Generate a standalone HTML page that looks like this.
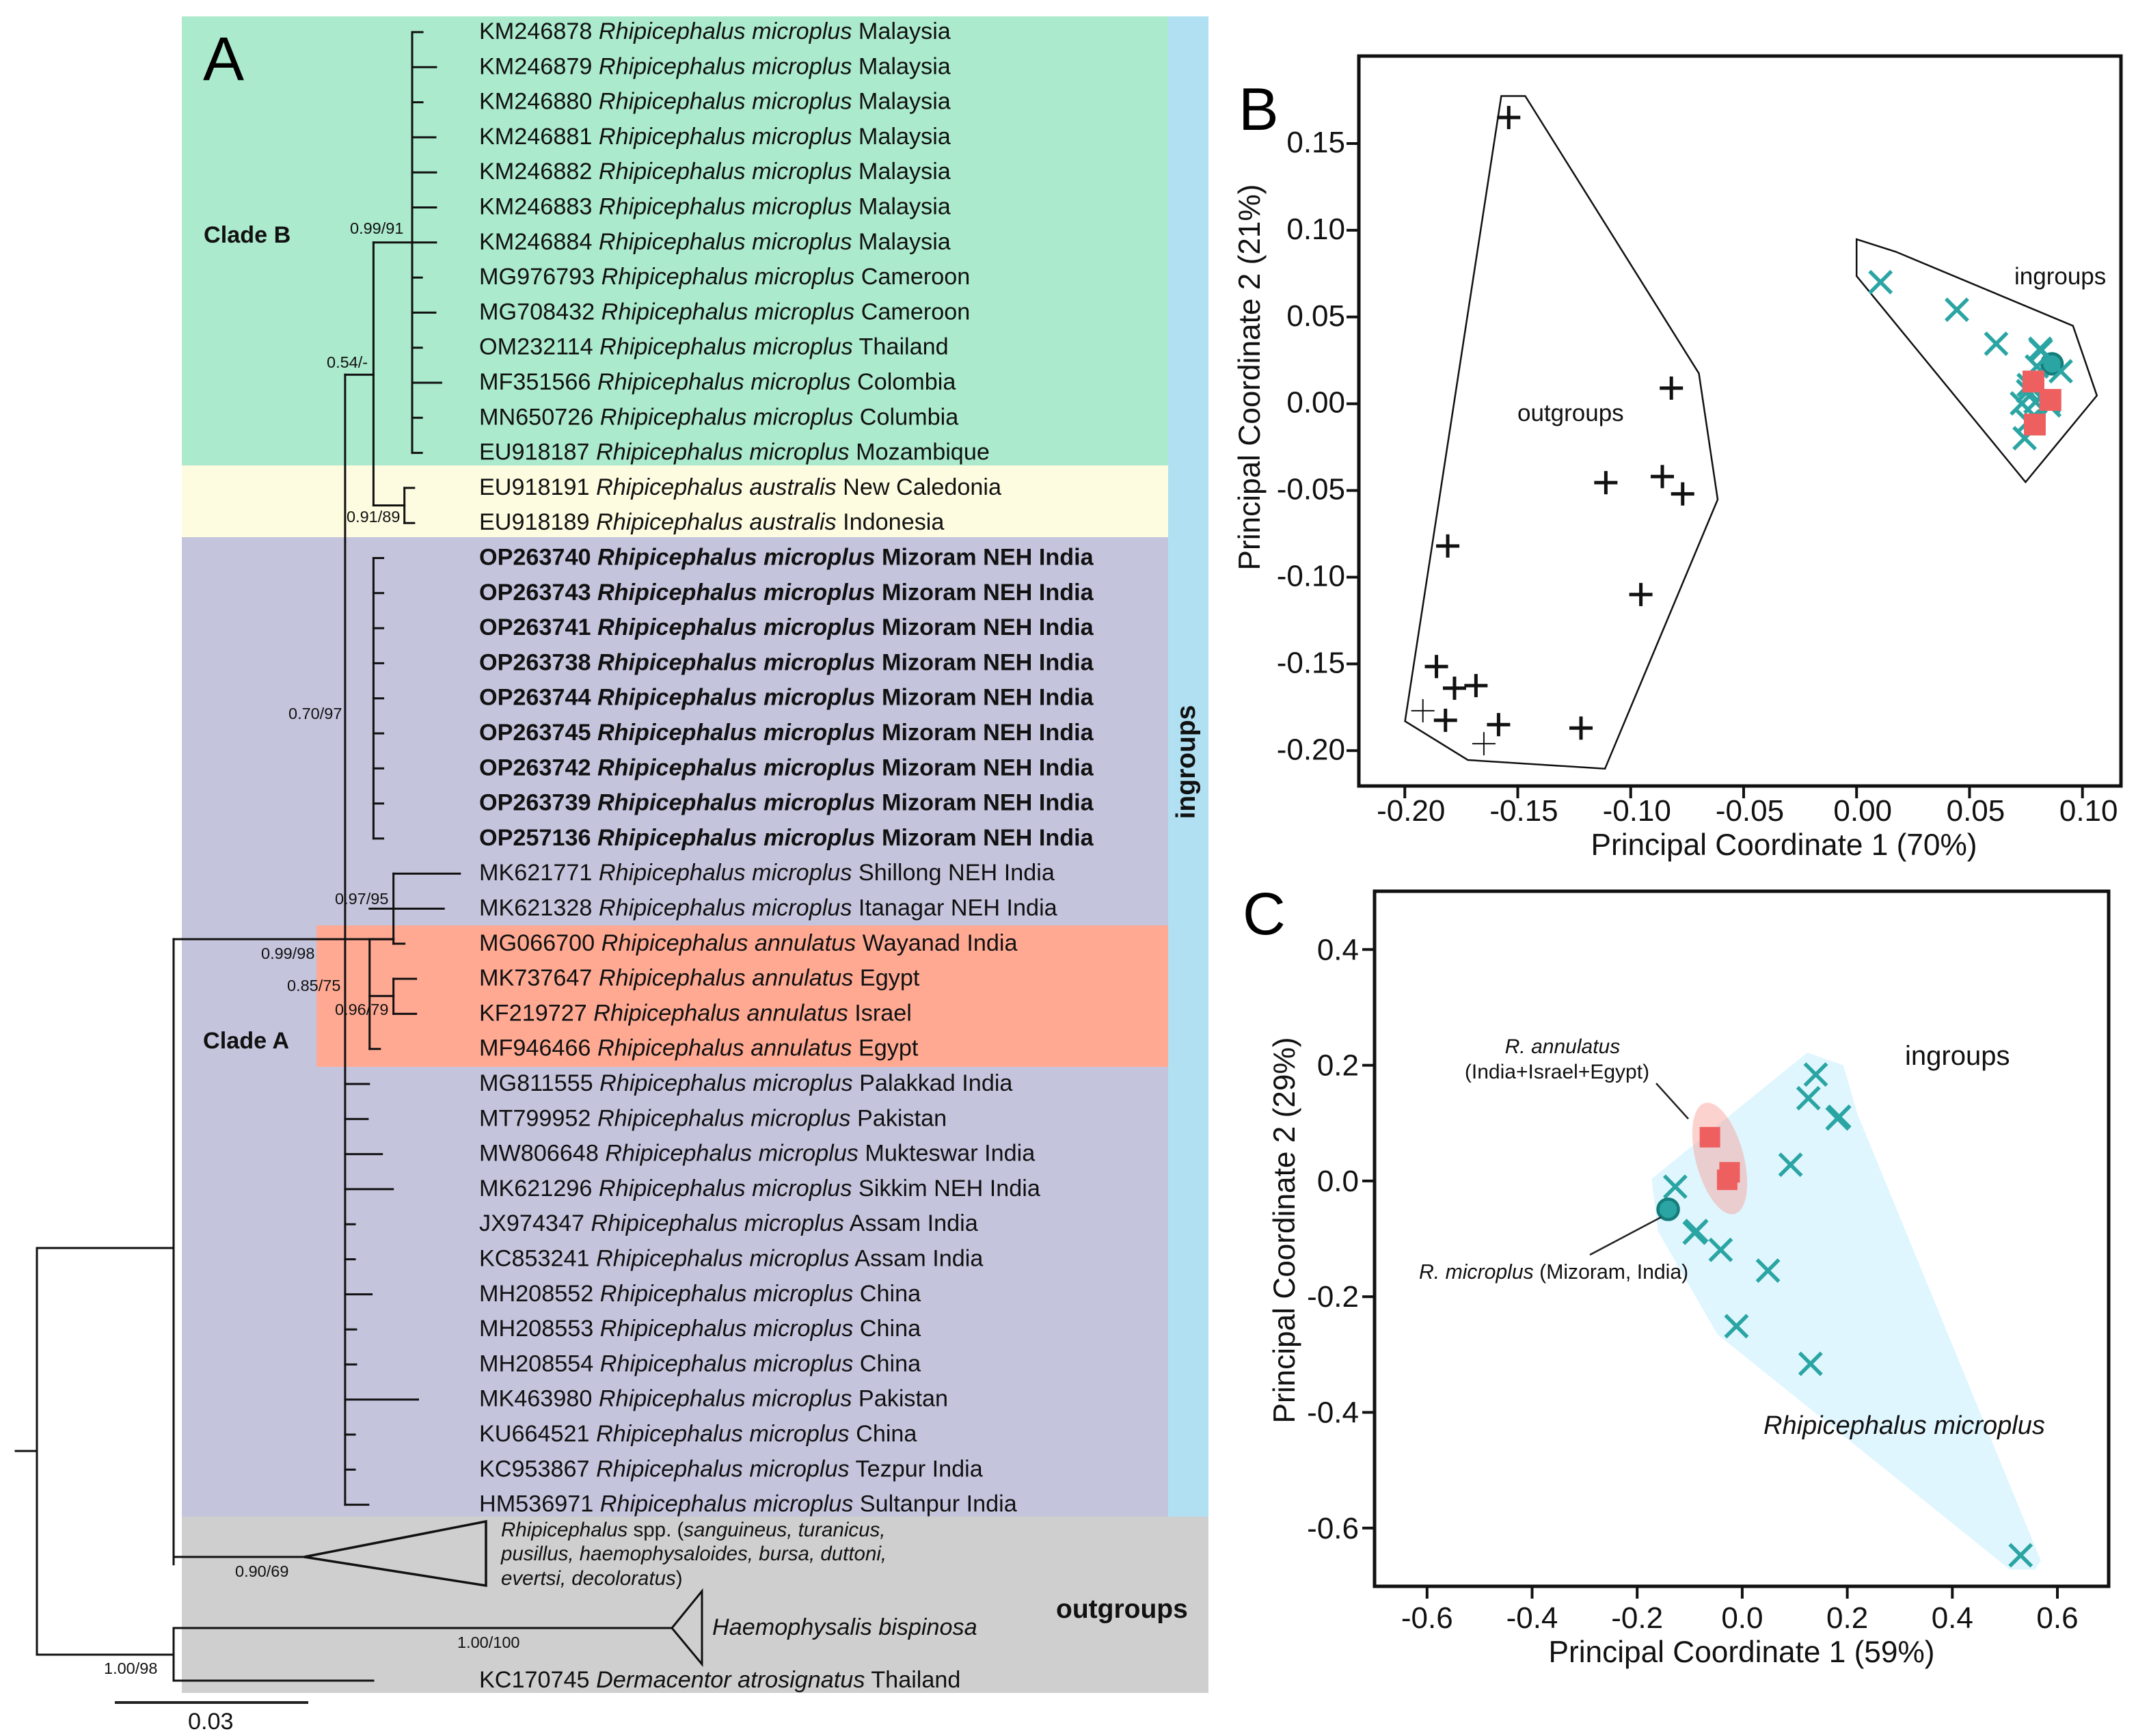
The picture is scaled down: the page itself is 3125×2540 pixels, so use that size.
<!DOCTYPE html>
<html lang="en">
<head>
<meta charset="utf-8">
<title>Phylogeny and principal coordinates analysis of Rhipicephalus</title>
<style>
html,body{margin:0;padding:0;background:#fff;}
body{width:3125px;height:2540px;overflow:hidden;position:relative;}
svg{position:absolute;left:0;top:0;font-family:"Liberation Sans",sans-serif;}
.t{font-size:34.2px;fill:#111;}
.b{font-weight:bold;}
.i{font-style:italic;}
.s{font-size:23.5px;fill:#111;}
.tick{font-size:44px;fill:#111;}
.title{font-size:44.2px;fill:#111;}
.big{font-size:90px;fill:#000;}
</style>
</head>
<body>
<svg id="figure" xmlns="http://www.w3.org/2000/svg" width="3125" height="2540" viewBox="0 0 3125 2540">
  <rect x="0" y="0" width="3125" height="2540" fill="#fff"/>
  <g id="panel-a">
    <rect x="266" y="24" width="1443" height="657" fill="#abeacd"/>
    <rect x="266" y="681" width="1443" height="105" fill="#fdfbe0"/>
    <rect x="266" y="786" width="1443" height="1433" fill="#c4c5dd"/>
    <rect x="463" y="1354" width="1246" height="207" fill="#ffa993"/>
    <rect x="1709" y="24" width="59" height="2195" fill="#b0e0f2"/>
    <rect x="266" y="2219" width="1502" height="258" fill="#d0cfd0"/>
    <g id="tree-lines"></g>
    <polygon points="445,2278 711,2226 711,2320" fill="none" stroke="#111" stroke-width="3.5"/>
    <polygon points="983,2382 1027,2328 1027,2435" fill="none" stroke="#111" stroke-width="3"/>

    <text class="big" x="297" y="117">A</text>
    <text class="t b" x="298" y="355">Clade B</text>
    <text class="t b" x="297" y="1534">Clade A</text>
    <text class="b" font-size="39" fill="#111" text-anchor="middle" transform="translate(1748,1115) rotate(-90)">ingroups</text>
    <text class="b" font-size="39" fill="#111" x="1545" y="2367">outgroups</text>

    <text class="s" x="512" y="342">0.99/91</text>
    <text class="s" x="478" y="538">0.54/-</text>
    <text class="s" x="507" y="764">0.91/89</text>
    <text class="s" x="422" y="1052">0.70/97</text>
    <text class="s" x="490" y="1323">0.97/95</text>
    <text class="s" x="382" y="1403">0.99/98</text>
    <text class="s" x="420" y="1450">0.85/75</text>
    <text class="s" x="490" y="1485">0.96/79</text>
    <text class="s" x="344" y="2307">0.90/69</text>
    <text class="s" x="669" y="2411">1.00/100</text>
    <text class="s" x="152" y="2449">1.00/98</text>

    <g transform="translate(-1,-2)">
    <text class="t" x="702" y="59">KM246878 <tspan class="i">Rhipicephalus microplus</tspan> Malaysia</text>
    <text class="t" x="702" y="110.3">KM246879 <tspan class="i">Rhipicephalus microplus</tspan> Malaysia</text>
    <text class="t" x="702" y="161.6">KM246880 <tspan class="i">Rhipicephalus microplus</tspan> Malaysia</text>
    <text class="t" x="702" y="212.9">KM246881 <tspan class="i">Rhipicephalus microplus</tspan> Malaysia</text>
    <text class="t" x="702" y="264.2">KM246882 <tspan class="i">Rhipicephalus microplus</tspan> Malaysia</text>
    <text class="t" x="702" y="315.5">KM246883 <tspan class="i">Rhipicephalus microplus</tspan> Malaysia</text>
    <text class="t" x="702" y="366.8">KM246884 <tspan class="i">Rhipicephalus microplus</tspan> Malaysia</text>
    <text class="t" x="702" y="418.1">MG976793 <tspan class="i">Rhipicephalus microplus</tspan> Cameroon</text>
    <text class="t" x="702" y="469.4">MG708432 <tspan class="i">Rhipicephalus microplus</tspan> Cameroon</text>
    <text class="t" x="702" y="520.7">OM232114 <tspan class="i">Rhipicephalus microplus</tspan> Thailand</text>
    <text class="t" x="702" y="572">MF351566 <tspan class="i">Rhipicephalus microplus</tspan> Colombia</text>
    <text class="t" x="702" y="623.3">MN650726 <tspan class="i">Rhipicephalus microplus</tspan> Columbia</text>
    <text class="t" x="702" y="674.6">EU918187 <tspan class="i">Rhipicephalus microplus</tspan> Mozambique</text>
    <text class="t" x="702" y="725.9">EU918191 <tspan class="i">Rhipicephalus australis</tspan> New Caledonia</text>
    <text class="t" x="702" y="777.2">EU918189 <tspan class="i">Rhipicephalus australis</tspan> Indonesia</text>
    <text class="t b" x="702" y="828.5">OP263740 <tspan class="i">Rhipicephalus microplus</tspan> Mizoram NEH India</text>
    <text class="t b" x="702" y="879.8">OP263743 <tspan class="i">Rhipicephalus microplus</tspan> Mizoram NEH India</text>
    <text class="t b" x="702" y="931.1">OP263741 <tspan class="i">Rhipicephalus microplus</tspan> Mizoram NEH India</text>
    <text class="t b" x="702" y="982.4">OP263738 <tspan class="i">Rhipicephalus microplus</tspan> Mizoram NEH India</text>
    <text class="t b" x="702" y="1033.7">OP263744 <tspan class="i">Rhipicephalus microplus</tspan> Mizoram NEH India</text>
    <text class="t b" x="702" y="1085">OP263745 <tspan class="i">Rhipicephalus microplus</tspan> Mizoram NEH India</text>
    <text class="t b" x="702" y="1136.3">OP263742 <tspan class="i">Rhipicephalus microplus</tspan> Mizoram NEH India</text>
    <text class="t b" x="702" y="1187.6">OP263739 <tspan class="i">Rhipicephalus microplus</tspan> Mizoram NEH India</text>
    <text class="t b" x="702" y="1238.9">OP257136 <tspan class="i">Rhipicephalus microplus</tspan> Mizoram NEH India</text>
    <text class="t" x="702" y="1290.2">MK621771 <tspan class="i">Rhipicephalus microplus</tspan> Shillong NEH India</text>
    <text class="t" x="702" y="1341.5">MK621328 <tspan class="i">Rhipicephalus microplus</tspan> Itanagar NEH India</text>
    <text class="t" x="702" y="1392.8">MG066700 <tspan class="i">Rhipicephalus annulatus</tspan> Wayanad India</text>
    <text class="t" x="702" y="1444.1">MK737647 <tspan class="i">Rhipicephalus annulatus</tspan> Egypt</text>
    <text class="t" x="702" y="1495.4">KF219727 <tspan class="i">Rhipicephalus annulatus</tspan> Israel</text>
    <text class="t" x="702" y="1546.7">MF946466 <tspan class="i">Rhipicephalus annulatus</tspan> Egypt</text>
    <text class="t" x="702" y="1598">MG811555 <tspan class="i">Rhipicephalus microplus</tspan> Palakkad India</text>
    <text class="t" x="702" y="1649.3">MT799952 <tspan class="i">Rhipicephalus microplus</tspan> Pakistan</text>
    <text class="t" x="702" y="1700.6">MW806648 <tspan class="i">Rhipicephalus microplus</tspan> Mukteswar India</text>
    <text class="t" x="702" y="1751.9">MK621296 <tspan class="i">Rhipicephalus microplus</tspan> Sikkim NEH India</text>
    <text class="t" x="702" y="1803.2">JX974347 <tspan class="i">Rhipicephalus microplus</tspan> Assam India</text>
    <text class="t" x="702" y="1854.5">KC853241 <tspan class="i">Rhipicephalus microplus</tspan> Assam India</text>
    <text class="t" x="702" y="1905.8">MH208552 <tspan class="i">Rhipicephalus microplus</tspan> China</text>
    <text class="t" x="702" y="1957.1">MH208553 <tspan class="i">Rhipicephalus microplus</tspan> China</text>
    <text class="t" x="702" y="2008.4">MH208554 <tspan class="i">Rhipicephalus microplus</tspan> China</text>
    <text class="t" x="702" y="2059.7">MK463980 <tspan class="i">Rhipicephalus microplus</tspan> Pakistan</text>
    <text class="t" x="702" y="2111">KU664521 <tspan class="i">Rhipicephalus microplus</tspan> China</text>
    <text class="t" x="702" y="2162.3">KC953867 <tspan class="i">Rhipicephalus microplus</tspan> Tezpur India</text>
    <text class="t" x="702" y="2213.6">HM536971 <tspan class="i">Rhipicephalus microplus</tspan> Sultanpur India</text>
    <text class="t" x="702" y="2471">KC170745 <tspan class="i">Dermacentor atrosignatus</tspan> Thailand</text>
    <text class="t" style="font-size:29.5px" x="734" y="2250"><tspan class="i">Rhipicephalus</tspan> spp. (<tspan class="i">sanguineus, turanicus,</tspan></text>
    <text class="t i" style="font-size:29.5px" x="734" y="2285">pusillus, haemophysaloides, bursa, duttoni,</text>
    <text class="t" style="font-size:29.5px" x="734" y="2321"><tspan class="i">evertsi, decoloratus</tspan>)</text>
    <text class="t i" x="1043" y="2394">Haemophysalis bispinosa</text>
    </g>

    <line x1="168" y1="2491" x2="451" y2="2491" stroke="#222" stroke-width="4"/>
    <text class="t" x="275" y="2530">0.03</text>
  </g>

  <g id="panel-b">
    <text class="big" style="font-size:88px" x="1812" y="190">B</text>
    <g id="b-plot"></g>
    <rect x="1988" y="82" width="1115" height="1068" fill="none" stroke="#111" stroke-width="5"/>
    <text class="title" text-anchor="middle" x="2610" y="1251">Principal Coordinate 1 (70%)</text>
    <text class="title" text-anchor="middle" transform="translate(1843,552) rotate(-90)">Principal Coordinate 2 (21%)</text>
    <text font-size="35" fill="#111" x="2220" y="616">outgroups</text>
    <text font-size="35" fill="#111" x="2947" y="416">ingroups</text>
  </g>

  <g id="panel-c">
    <text class="big" style="font-size:87px" x="1818" y="1367">C</text>
    <g id="c-plot"></g>
    <rect x="2011" y="1304" width="1074" height="1017" fill="none" stroke="#111" stroke-width="5"/>
    <text class="title" text-anchor="middle" x="2548" y="2432">Principal Coordinate 1 (59%)</text>
    <text class="title" text-anchor="middle" transform="translate(1894,1800) rotate(-90)">Principal Coordinate 2 (29%)</text>
    <text font-size="40" fill="#111" x="2787" y="1558">ingroups</text>
    <text class="i" font-size="38" fill="#111" x="2580" y="2098">Rhipicephalus microplus</text>
    <text class="i" font-size="30" fill="#111" text-anchor="middle" x="2286" y="1541">R. annulatus</text>
    <text font-size="30" fill="#111" text-anchor="middle" x="2278" y="1578">(India+Israel+Egypt)</text>
    <text font-size="30.2" fill="#111" x="2076" y="1871"><tspan class="i">R. microplus</tspan> (Mizoram, India)</text>
    <line x1="2423" y1="1585" x2="2470" y2="1637" stroke="#222" stroke-width="2.5"/>
    <line x1="2430" y1="1781" x2="2326" y2="1836" stroke="#222" stroke-width="2.5"/>
  </g>
</svg>
<script>
/* ---------- Tree data (branch depth in substitutions per site, row index from the top) ---------- */
var tipRows = [0,1,2,3,4,5,6,7,8,9,10,11,12,13,14,15,16,17,18,19,20,21,22,23,24,25,26,27,28,29,30,31,32,33,34,35,36,37,38,39,40,41,42];
var tipParents = [0.0582,0.0582,0.0582,0.0582,0.0582,0.0582,0.0582,0.0582,0.0582,0.0582,0.0582,0.0582,0.0582,0.0570,0.0570,0.0522,0.0522,0.0522,0.0522,0.0522,0.0522,0.0522,0.0522,0.0522,0.0553,0.0516,0.0553,0.0553,0.0553,0.0516,0.0478,0.0478,0.0478,0.0478,0.0478,0.0478,0.0478,0.0478,0.0478,0.0478,0.0478,0.0478,0.0478];
var tipDepths = [0.0598,0.0619,0.0598,0.0618,0.0619,0.0619,0.0619,0.0597,0.0618,0.0597,0.0627,0.0597,0.0597,0.0585,0.0585,0.0537,0.0537,0.0537,0.0537,0.0537,0.0537,0.0537,0.0537,0.0537,0.0656,0.0631,0.0570,0.0588,0.0588,0.0532,0.0515,0.0513,0.0535,0.0552,0.0493,0.0493,0.0519,0.0495,0.0495,0.0591,0.0493,0.0493,0.0514];
var cladeDepths = [0.0582,0.0570,0.0522,0.0553,0.0516,0.0553,0.0522,0.0478,0.0212];
var cladeFromRows = [0,13,15,24,25.87,27,6,9.77,25.87];
var cladeToRows = [12,14,23,26,29,28,13.5,42,43.7];
var stemStart = [0.0522,0.0570,0.0478,0.0516,0.0553,0.0478,0.0478,0.0516,0.0212];
var stemEnd = [0.0582,0.0522,0.0522,0.0553,0.0516,0.0553,0.0212,0.0553,0.0212];
var stemRows = [6,13.5,9.77,25.87,25.87,25.87,25.87,27.49,25.87];
var rootDepth = 0;
var outgroupNodeDepth = 0.0212;

/* ---------- Panel B data ---------- */
var bXTicks = [-0.20,-0.15,-0.10,-0.05,0.00,0.05,0.10];
var bYTicks = [0.15,0.10,0.05,0.00,-0.05,-0.10,-0.15,-0.20];
var bOutX = [-0.154,-0.082,-0.111,-0.086,-0.077,-0.181,-0.0955,-0.186,-0.178,-0.1685,-0.182,-0.1585,-0.122];
var bOutY = [0.165,0.009,-0.0455,-0.042,-0.052,-0.082,-0.11,-0.1515,-0.164,-0.1625,-0.1825,-0.185,-0.187];
var bOutThinX = [-0.192,-0.165];
var bOutThinY = [-0.177,-0.196];
var bInX = [0.0106,0.0444,0.0618,0.0813,0.0816,0.0798,0.0904,0.0762,0.0759,0.0732,0.0792,0.085,0.0853,0.0759,0.0744];
var bInY = [0.0701,0.0542,0.0346,0.0317,0.0306,0.0215,0.0187,0.0108,0.0073,0.0002,0.001,0.001,-0.001,-0.0104,-0.0199];
var bAnnX = [0.0783,0.0858,0.0789];
var bAnnY = [0.0128,0.0022,-0.012];
var bMizX = [0.0865];
var bMizY = [0.023];
var bOutHullX = [-0.1573,-0.1467,-0.0698,-0.0615,-0.1114,-0.1721,-0.1999];
var bOutHullY = [0.1774,0.1774,0.0175,-0.0552,-0.2104,-0.2054,-0.183];
var bInHullX = [0,0.0174,0.0958,0.1064,0.0748,0];
var bInHullY = [0.0948,0.0876,0.0449,0.0047,-0.0452,0.0736];

/* ---------- Panel C data ---------- */
var cXTicks = [-0.6,-0.4,-0.2,0.0,0.2,0.4,0.6];
var cYTicks = [0.4,0.2,0.0,-0.2,-0.4,-0.6];
var cInX = [0.14,0.126,0.1815,0.1845,0.092,-0.1275,-0.0905,-0.0875,-0.041,0.049,-0.011,0.13,0.53];
var cInY = [0.184,0.143,0.108,0.111,0.028,-0.01,-0.0895,-0.0865,-0.119,-0.155,-0.251,-0.316,-0.647];
var cAnnX = [-0.0615,-0.024,-0.0286];
var cAnnY = [0.0756,0.015,0.002];
var cMizX = [-0.141];
var cMizY = [-0.049];
var cHullX = [0.124,0.1924,0.2188,0.5685,0.5575,0.51,-0.0473,-0.1605,-0.1726];
var cHullY = [0.222,0.2,0.1173,-0.656,-0.672,-0.672,-0.265,-0.087,0.0036];
var cEllipseCenterX = [-0.0428];
var cEllipseCenterY = [0.0389];

/* ---------- Helpers ---------- */
var NS = 'http://www.w3.org/2000/svg';
function mk(tag, parent, geom) {
  var n = document.createElementNS(NS, tag);
  for (var k in geom) { n.setAttribute(k, geom[k]); }
  parent.appendChild(n);
  return n;
}
/* tree axes */
function treeX(d) { return 54 + d * 9433; }
function treeY(r) { return 47 + r * 51.3; }
/* panel B axes */
function bx(v) { return 2716.2 + v * 3304.7; }
function by(v) { return 590.7 - v * 2538; }
/* panel C axes */
function cx(v) { return 2548.9 + v * 768.5; }
function cy(v) { return 1727.9 - v * 846.5; }

function lineTo(parent, x1, y1, x2, y2, w, col) {
  return mk('line', parent, {x1:x1, y1:y1, x2:x2, y2:y2, stroke:col, 'stroke-width':w, 'stroke-linecap':'square'});
}

/* ---------- Tree ---------- */
var tree = document.getElementById('tree-lines');
tipRows.forEach(function (r, i) {
  var tip = lineTo(tree, treeX(tipParents[i]), treeY(r), treeX(tipDepths[i]), treeY(r), 3, '#111');
  
  
});
cladeDepths.forEach(function (d, i) {
  var v = lineTo(tree, treeX(d), treeY(cladeFromRows[i]), treeX(d), treeY(cladeToRows[i]), 3, '#111');
  
  
});
stemRows.forEach(function (r, i) {
  var h = lineTo(tree, treeX(stemStart[i]), treeY(r), treeX(stemEnd[i]), treeY(r), 3, '#111');
  
  
});
/* root and outgroup backbone */
var yCollapsed = 2278, yHaem = 2382, yDerm = 2459, yRootLow = 2421, yRootUp = 1826, yRootStub = 2123;
var backboneSegments = [
  [treeX(rootDepth), yRootUp, treeX(rootDepth), yRootLow],
  [treeX(rootDepth), yRootUp, treeX(outgroupNodeDepth), yRootUp],
  [treeX(rootDepth), yRootLow, treeX(outgroupNodeDepth), yRootLow],
  [treeX(outgroupNodeDepth), 1374, treeX(outgroupNodeDepth), yCollapsed],
  [treeX(outgroupNodeDepth), yCollapsed, 445, yCollapsed],
  [treeX(outgroupNodeDepth), yHaem, treeX(outgroupNodeDepth), yDerm],
  [treeX(outgroupNodeDepth), yHaem, 983, yHaem],
  [treeX(outgroupNodeDepth), yDerm, 546, yDerm],
  [23, yRootStub, treeX(rootDepth), yRootStub]
];
backboneSegments.forEach(function (s) {
  var b = lineTo(tree, s[0], s[1], s[2], s[3], 3, '#111');
  
  
});

/* ---------- Marker drawers ---------- */
function plusMark(parent, x, y, w) {
  var g = mk('g', parent, {});
  
  
  mk('line', g, {x1:x-17, y1:y, x2:x+17, y2:y, stroke:'#111', 'stroke-width':w});
  mk('line', g, {x1:x, y1:y-17, x2:x, y2:y+17, stroke:'#111', 'stroke-width':w});
}
function xMark(parent, x, y) {
  var g = mk('g', parent, {});
  
  
  mk('line', g, {x1:x-16, y1:y-16, x2:x+16, y2:y+16, stroke:'#2aa5a3', 'stroke-width':5.5});
  mk('line', g, {x1:x-16, y1:y+16, x2:x+16, y2:y-16, stroke:'#2aa5a3', 'stroke-width':5.5});
}
function squareMark(parent, x, y, s) {
  var r = mk('rect', parent, {x:x-s/2, y:y-s/2, width:s, height:s, fill:'#ee5f60'});
  
  
}
function circleMark(parent, x, y) {
  var c = mk('circle', parent, {cx:x, cy:y, r:15, fill:'#2aa5a3', stroke:'#147d7b', 'stroke-width':4.5});
  
  
}
function hullPoints(xs, ys, fx, fy) {
  return xs.map(function (v, i) { return fx(v).toFixed(1) + ',' + fy(ys[i]).toFixed(1); }).join(' ');
}

/* ---------- Panel B ---------- */
var bPlot = document.getElementById('b-plot');
bXTicks.forEach(function (v) {
  var t = lineTo(bPlot, bx(v), 1150, bx(v), 1166, 4, '#111');
  
  
  var l = mk('text', bPlot, {x:bx(v)+9, y:1201, 'text-anchor':'middle', 'class':'tick'});
  
  
  l.textContent = v.toFixed(2);
});
bYTicks.forEach(function (v) {
  var t = lineTo(bPlot, 1972, by(v), 1988, by(v), 4, '#111');
  
  
  var l = mk('text', bPlot, {x:1968, y:by(v)+13, 'text-anchor':'end', 'class':'tick'});
  
  
  l.textContent = v.toFixed(2);
});
var hullOut = mk('polygon', bPlot, {points:hullPoints(bOutHullX, bOutHullY, bx, by), fill:'none', stroke:'#111', 'stroke-width':2.5});


var hullIn = mk('polygon', bPlot, {points:hullPoints(bInHullX, bInHullY, bx, by), fill:'none', stroke:'#111', 'stroke-width':2.5});


bOutX.forEach(function (v, i) { plusMark(bPlot, bx(v), by(bOutY[i]), 5); });
bOutThinX.forEach(function (v, i) { plusMark(bPlot, bx(v), by(bOutThinY[i]), 2); });
bMizX.forEach(function (v, i) { circleMark(bPlot, bx(v), by(bMizY[i])); });
bInX.forEach(function (v, i) { xMark(bPlot, bx(v), by(bInY[i])); });
bAnnX.forEach(function (v, i) { squareMark(bPlot, bx(v), by(bAnnY[i]), 32); });

/* ---------- Panel C ---------- */
var cPlot = document.getElementById('c-plot');
cXTicks.forEach(function (v) {
  var t = lineTo(cPlot, cx(v), 2321, cx(v), 2337, 4, '#111');
  
  
  var l = mk('text', cPlot, {x:cx(v), y:2382, 'text-anchor':'middle', 'class':'tick'});
  
  
  l.textContent = v.toFixed(1);
});
cYTicks.forEach(function (v) {
  var t = lineTo(cPlot, 1995, cy(v), 2011, cy(v), 4, '#111');
  
  
  var l = mk('text', cPlot, {x:1988, y:cy(v)+15, 'text-anchor':'end', 'class':'tick'});
  
  
  l.textContent = v.toFixed(1);
});
var hullC = mk('polygon', cPlot, {points:hullPoints(cHullX, cHullY, cx, cy), fill:'#dff6fe'});


var ell = mk('ellipse', cPlot, {cx:cx(cEllipseCenterX[0]), cy:cy(cEllipseCenterY[0]), rx:35, ry:84, fill:'#f99c94', 'fill-opacity':0.45,
  transform:'rotate(-15 ' + cx(cEllipseCenterX[0]) + ' ' + cy(cEllipseCenterY[0]) + ')'});


cInX.forEach(function (v, i) { xMark(cPlot, cx(v), cy(cInY[i])); });
cAnnX.forEach(function (v, i) { squareMark(cPlot, cx(v), cy(cAnnY[i]), 30); });
cMizX.forEach(function (v, i) { circleMark(cPlot, cx(v), cy(cMizY[i])); });
</script>
</body>
</html>
